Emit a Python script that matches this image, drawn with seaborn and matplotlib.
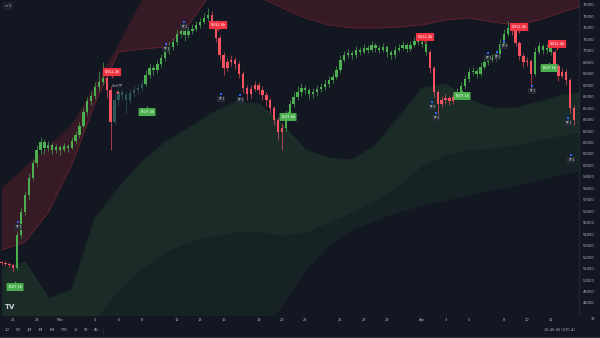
import numpy as np
import pandas as pd
import matplotlib
matplotlib.use("Agg")
import matplotlib.pyplot as plt
import seaborn as sns

# ---------------- data ----------------
open0 = 51550
close = [51490, 51400, 51310, 51050, 53930, 55940, 57420, 58900, 60210, 61350,
         62040, 61520, 61780, 61350, 61610, 61350, 61700, 61520, 62130, 62660,
         63440, 64660, 65620, 66060, 66840, 67280, 67630, 66580, 63790, 65710,
         66410, 66150, 65710, 66320, 66580, 66760, 67110, 67890, 68500, 68330,
         68850, 69380, 69900, 70340, 70770, 71470, 71730, 71380, 71730, 71910,
         72250, 72520, 72870, 73130, 72520, 71120, 69640, 68500, 69030, 69200,
         68850, 67980, 66760, 66230, 66670, 67020, 66580, 66150, 65710, 65010,
         63970, 62920, 63270, 64400, 65360, 65970, 66410, 66760, 66580, 66230,
         66410, 66670, 66840, 67110, 67460, 67720, 68330, 69200, 69640, 69810,
         69640, 70070, 69900, 70250, 70070, 70510, 70250, 70070, 70330, 69900,
         69640, 70070, 70250, 70510, 70160, 70510, 70860, 70770, 70600, 69900,
         68500, 66410, 65360, 65710, 65880, 65620, 65970, 66410, 66930, 67540,
         68150, 68240, 67980, 68590, 69030, 69200, 69380, 69720, 70600, 71470,
         71990, 71730, 70680, 69550, 69030, 69110, 67980, 69900, 70420, 70070,
         70250, 69900, 68680, 67810, 68150, 67460, 65010, 63970]
high = [51700, 51650, 51600, 51400, 54300, 56300, 57800, 59300, 60600, 61800,
        62500, 62300, 62100, 62000, 61900, 61800, 62000, 61900, 62500, 63000,
        63800, 65000, 66000, 66500, 67300, 68200, 69000, 68000, 66900, 66200,
        66800, 66700, 66400, 66700, 67000, 67100, 67500, 68300, 68900, 68800,
        69200, 69700, 70300, 70800, 71100, 71900, 72300, 71900, 72100, 72300,
        72600, 72900, 73300, 73700, 73500, 72700, 71400, 69900, 69400, 69600,
        69500, 69100, 68200, 67000, 67000, 67400, 67300, 66900, 66400, 65900,
        65200, 64200, 63700, 64800, 65700, 66400, 66900, 67200, 67000, 66800,
        66800, 67000, 67200, 67500, 67800, 68100, 68700, 69600, 70000, 70200,
        70000, 70400, 70300, 70600, 70500, 70900, 70700, 70500, 70700, 70500,
        70100, 70400, 70600, 70900, 70700, 70900, 71200, 71200, 71000, 70800,
        70100, 68700, 66600, 66100, 66200, 66100, 66300, 66800, 67300, 67900,
        68500, 68600, 68500, 69000, 69400, 69600, 69700, 70100, 71000, 71900,
        72600, 72300, 71900, 70900, 69800, 69500, 69300, 70300, 70800, 70600,
        70600, 70400, 70100, 68900, 68500, 68400, 67600, 65300]
low = [51300, 51200, 51100, 50700, 50900, 53700, 55700, 57000, 58700, 59900,
       61000, 61000, 61300, 61000, 61100, 60900, 61200, 61200, 61400, 61900,
       62400, 63300, 64400, 65300, 65800, 66500, 67000, 65900, 61350, 63500,
       65200, 65600, 64600, 65400, 66000, 66200, 66500, 66900, 67600, 67900,
       68100, 68600, 69100, 69700, 70100, 70500, 71200, 70900, 71100, 71500,
       71700, 72000, 72300, 72600, 72200, 70800, 69200, 67900, 68200, 68700,
       68400, 67600, 66300, 65700, 65900, 66500, 66200, 65700, 65200, 64600,
       63500, 62200, 61350, 63000, 64100, 65100, 65700, 66100, 66200, 65800,
       65900, 66100, 66400, 66600, 66800, 67200, 67500, 68100, 69000, 69400,
       69300, 69400, 69600, 69700, 69800, 69900, 69900, 69800, 69900, 69500,
       69300, 69400, 69900, 70100, 69900, 70000, 70300, 70500, 70300, 69600,
       68100, 66000, 64400, 65100, 65400, 65300, 65400, 65800, 66200, 66700,
       67300, 67900, 67600, 67800, 68400, 68800, 69000, 69100, 69500, 70400,
       71300, 71400, 70400, 69200, 68600, 68700, 66600, 67800, 69700, 69700,
       69800, 69600, 68300, 67400, 67600, 67000, 64600, 63500]
# trend state of the bars: (state, number of bars)
trend = [("R", 4), ("G", 23), ("R", 2), ("N", 8), ("G", 17), ("R", 19),
         ("G", 37), ("R", 7), ("G", 14), ("R", 6), ("G", 5), ("R", 6)]

# envelope bands, sampled every two days (days from Mar 1)
band_day = [-5, -3, -1, 1, 3, 5, 7, 9, 11, 13, 15, 17, 19, 21, 23, 25, 27, 29,
            31, 33, 35, 37, 39, 41, 43, 45]
upper_outer = [58030, 59860, 61700, 63530, 67020, 70510, 74440, 77930, 81420,
               81420, 81420, 81420, 81420, 81420, 81420, 81420, 81420, 81420,
               81420, 81420, 81420, 81420, 81420, 81420, 81420, 81420]
upper_inner = [52620, 53320, 55940, 60040, 65450, 69900, 70160, 70340, 72260,
               75130, 75310, 74700, 73740, 72870, 72260, 71990, 71990, 72080,
               72260, 72690, 72870, 72520, 72260, 72690, 73390, 74000]
lower_top = [51050, 51570, 48430, 49130, 55410, 58030, 60300, 62050, 63270,
             64580, 65540, 65360, 63620, 61350, 60650, 60470, 61780, 64230,
             66760, 67110, 65710, 65010, 65010, 65540, 66150, 66410]
lower_mid = [44330, 44330, 44330, 45200, 46510, 49130, 51050, 52450, 53320,
             53840, 54190, 54190, 53930, 54190, 55060, 55940, 56980, 58290,
             60040, 60910, 61350, 61520, 61780, 62220, 62660, 62920]
lower_bot = [43900, 43900, 43900, 43900, 43900, 43900, 43900, 43900, 43900,
             43900, 43900, 45200, 47820, 50880, 53060, 54370, 55240, 55940,
             56550, 56980, 57420, 57860, 58290, 58730, 59250, 59600]

# price / time axis labels
price_ticks = list(range(48000, 75000, 1000))
time_tick_day = [-4, -2, 0, 3, 5, 7, 10, 12, 14, 17, 19, 21, 24, 26, 28, 31, 33,
                 35, 38, 40, 42]
time_tick_lbl = ["26", "28", "Mar", "4", "6", "8", "11", "13", "15", "18", "20",
                 "22", "25", "27", "29", "Apr", "3", "5", "8", "10", "12"]

# signals (day, price, kind)
sig_day = [-3.85, 4.45, 7.45, 13.53, 19.52, 31.25, 34.42, 39.3, 41.87, 42.55]
sig_price = [49390, 68150, 64660, 72250, 64230, 71210, 66060, 72080, 68500, 70600]
sig_kind = ["BUY", "SELL", "BUY", "SELL", "BUY", "SELL", "BUY", "SELL", "BUY", "SELL"]
sig_text = ["BUY 1h", "SELL 4h", "BUY 4h", "SELL 4h", "BUY 4h", "SELL 4h",
            "BUY 1h", "SELL 4h", "BUY 1h", "SELL 4h"]
# take-profit markers
tp_day = [-3.6, 9.08, 10.62, 13.78, 15.41, 31.85, 32.19, 36.64, 37.41, 38.01,
          40.41, 43.49, 43.75]
tp_price = [55060, 70600, 72520, 66230, 66150, 65540, 64580, 69810, 69900,
            70860, 66930, 64140, 60910]
tp_text = ["TP 1", "TP 1", "TP 2", "TP 1", "TP 2", "TP 2", "TP 3", "TP 1",
           "TP 2", "TP 3", "TP 1", "TP 1", "TP 2"]

# ---------------- style ----------------
BG = "#131722"
GREEN = "#4caf50"
RED = "#f7525f"
DIM = "#2d5a56"
TXT = "#b2b5be"

sns.set_theme(style="dark", rc={"axes.facecolor": BG, "figure.facecolor": BG,
                                "axes.edgecolor": BG, "grid.color": BG})
plt.rcParams["font.family"] = ["DejaVu Sans"]

W, H = 600, 338
fig = plt.figure(figsize=(W / 100, H / 100), dpi=100, facecolor=BG)
ax = fig.add_axes([0, 23 / H, 579 / W, 315 / H])
ax.set_facecolor(BG)

y_top, y_bot = 74436, 46950
x_left, x_right = -5.137, 44.43

# bands
bd = pd.DataFrame({"day": band_day, "uo": upper_outer, "ui": upper_inner,
                   "lt": lower_top, "lm": lower_mid, "lb": lower_bot})
ax.fill_between(bd["day"], bd["ui"], bd["uo"], color="#f23645", alpha=0.16, lw=0, zorder=1)
ax.fill_between(bd["day"], bd["lm"], bd["lt"], color="#4caf50", alpha=0.14, lw=0, zorder=1)
ax.fill_between(bd["day"], bd["lb"], bd["lm"], color="#4caf50", alpha=0.08, lw=0, zorder=1)
sns.lineplot(data=bd, x="day", y="ui", ax=ax, color="#f23645", alpha=0.25, lw=0.6, zorder=2)
sns.lineplot(data=bd, x="day", y="uo", ax=ax, color="#f23645", alpha=0.12, lw=0.6, zorder=2)
sns.lineplot(data=bd, x="day", y="lt", ax=ax, color="#4caf50", alpha=0.15, lw=0.6, zorder=2)

# candles
n = len(close)
days = np.array([-5 + i / 3 for i in range(n)])
opens = np.array([open0] + close[:-1], dtype=float)
closes = np.array(close, dtype=float)
states = "".join(s * k for s, k in trend)
cmap = {"G": GREEN, "R": RED, "N": DIM}
cols = [cmap[s] for s in states]
ax.vlines(days, low, high, colors=cols, lw=0.45, zorder=3)
bottoms = np.minimum(opens, closes)
heights = np.maximum(np.abs(closes - opens), 70)
ax.bar(days, heights, bottom=bottoms, width=0.2, color=cols, lw=0, zorder=4)

# signals
for d, p, k, t in zip(sig_day, sig_price, sig_kind, sig_text):
    fc = "#4caf50" if k == "BUY" else "#f23645"
    ax.text(d, p, t, fontsize=2.6, color="white", ha="center", va="center",
            zorder=6, bbox=dict(boxstyle="round,pad=0.55,rounding_size=0.2",
                                fc=fc, ec="none"))
    dy = 430 if k == "BUY" else -430
    ax.scatter([d], [p + dy], marker="^" if k == "BUY" else "v", s=3, color=fc,
               lw=0, zorder=6)

# take-profit markers
ax.scatter(tp_day, tp_price, marker="s", s=2.2, color="#2962ff", lw=0, zorder=6)
for d, p, t in zip(tp_day, tp_price, tp_text):
    ax.text(d, p - 420, t, fontsize=2.2, color="#d1d4dc", ha="center", va="center",
            zorder=6, bbox=dict(boxstyle="square,pad=0.25", fc="#2a2e39", ec="none", alpha=0.8))

ax.text(4.9, 66900, "Sell TP", fontsize=2.2, color="#d1d4dc", ha="center", va="center", zorder=6)
ax.scatter([4.9], [66420], s=3, color=RED, lw=0, zorder=6)

ax.set_xlim(x_left, x_right)
ax.set_ylim(y_bot, y_top)
ax.grid(False)
for s in ax.spines.values():
    s.set_visible(False)

ax.yaxis.tick_right()
ax.set_yticks(price_ticks)
ax.set_yticklabels([str(v) for v in price_ticks])
ax.tick_params(axis="y", length=0, pad=2.5, labelsize=2.6, labelcolor=TXT)
ax.set_xticks(time_tick_day)
ax.set_xticklabels(time_tick_lbl)
ax.tick_params(axis="x", length=0, pad=2.2, labelsize=2.6, labelcolor=TXT)
ax.set_xlabel("")
ax.set_ylabel("")

# price scale separator
fig.add_artist(plt.Line2D([579 / W, 579 / W], [23 / H, 1], color="#2a2e39", lw=0.5))

# toolbar
tb = ["1D", "5D", "1M", "3M", "6M", "YTD", "1Y", "5Y", "All"]
tbx = [7, 18, 29, 40, 52, 64, 76, 86, 96]
for x, t in zip(tbx, tb):
    fig.text(x / W, 1 - 330 / H, t, fontsize=2.6, color=TXT, ha="center", va="center")
fig.add_artist(plt.Line2D([103 / W, 103 / W], [1 - 334 / H, 1 - 326 / H], color="#2a2e39", lw=0.5))
fig.text(575 / W, 1 - 330 / H, "16:45:56 (UTC-4)", fontsize=2.6, color=TXT, ha="right", va="center")
fig.text(592 / W, 1 - 319 / H, "⚙", fontsize=3, color=TXT, ha="center", va="center")
fig.text(10 / W, 1 - 307 / H, "TV", fontsize=5, color="#d1d4dc", weight="bold", ha="center", va="center")
fig.add_artist(plt.Line2D([0, 1], [1 - 336.5 / H, 1 - 336.5 / H], color="#2a2e39", lw=1))
fig.text(8 / W, 1 - 6 / H, "≈ 5", fontsize=2.6, color=TXT, ha="center", va="center",
         bbox=dict(boxstyle="round,pad=0.4", fc="#1e222d", ec="#2a2e39", lw=0.3))

fig.savefig("out.png", dpi=100, facecolor=BG)
